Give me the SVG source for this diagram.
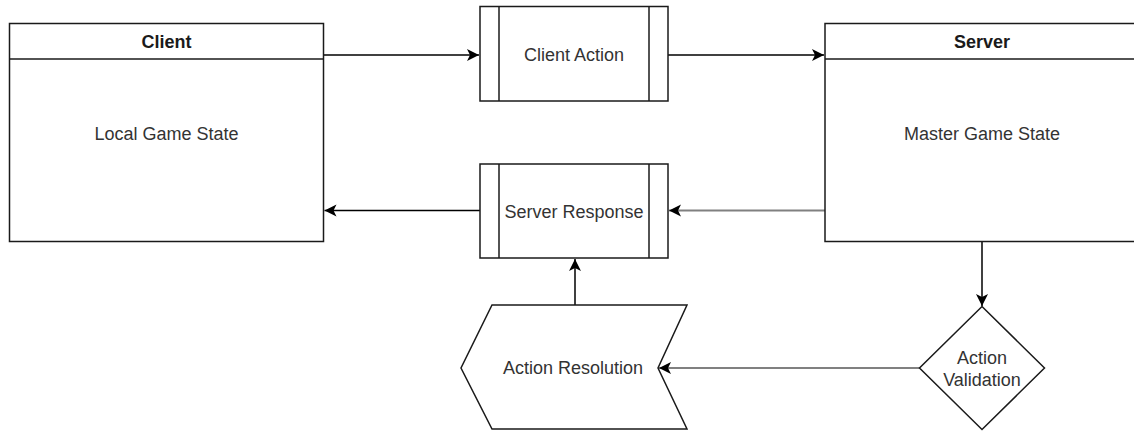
<svg xmlns="http://www.w3.org/2000/svg" width="1134" height="432" viewBox="0 0 1134 432">
<style>
.box{fill:#fff;stroke:#1a1a1a;stroke-width:1.5}
.t{font-family:"Liberation Sans",Arial,sans-serif;font-size:18px;fill:#333;text-anchor:middle;dominant-baseline:central}
.b{font-weight:bold;fill:#1a1a1a}
.c{fill:none;stroke:#000;stroke-width:1.5}
.g{stroke:#808080;stroke-width:2}
</style>
<defs>
<marker id="ah" markerUnits="userSpaceOnUse" markerWidth="14" markerHeight="14" viewBox="0 0 14 14" refX="12.5" refY="7" orient="auto">
<path d="M12.5,7 L0.5,1 L3.5,7 L0.5,13 Z" fill="#000"/>
</marker>
</defs>
<rect width="1134" height="432" fill="#fff"/>
<g id="connectors">
<path class="c" d="M323.5,55 H479" marker-end="url(#ah)"/>
<path class="c" d="M668,55 H824" marker-end="url(#ah)"/>
<path class="c g" d="M825,210.5 H669" marker-end="url(#ah)"/>
<path class="c" d="M480,210.5 H324.5" marker-end="url(#ah)"/>
<path class="c" d="M982,241.5 V306" marker-end="url(#ah)"/>
<path class="c g" d="M920,368 H659" marker-end="url(#ah)"/>
<path class="c" d="M575,305 V259" marker-end="url(#ah)"/>
</g>
<g id="client">
<rect class="box" x="9.5" y="23.5" width="314" height="218"/>
<line class="box" x1="9.5" y1="59" x2="323.5" y2="59"/>
<text class="t b" x="166.5" y="42">Client</text>
<text class="t" x="166.5" y="134">Local Game State</text>
</g>
<g id="client-action">
<rect class="box" x="480" y="6.5" width="188" height="94.5"/>
<line class="box" x1="499" y1="6.5" x2="499" y2="101"/>
<line class="box" x1="649" y1="6.5" x2="649" y2="101"/>
<text class="t" x="574" y="55">Client Action</text>
</g>
<g id="server">
<rect class="box" x="825" y="23.5" width="314" height="218"/>
<line class="box" x1="825" y1="59" x2="1139" y2="59"/>
<text class="t b" x="982" y="42">Server</text>
<text class="t" x="982" y="134">Master Game State</text>
</g>
<g id="server-response">
<rect class="box" x="480" y="164" width="188" height="94"/>
<line class="box" x1="499" y1="164" x2="499" y2="258"/>
<line class="box" x1="649" y1="164" x2="649" y2="258"/>
<text class="t" x="574" y="212">Server Response</text>
</g>
<g id="action-validation">
<path class="box" d="M982,306.5 L1044.5,368 L982,429.5 L919.5,368 Z"/>
<text class="t" x="982" y="358">Action</text>
<text class="t" x="982" y="380">Validation</text>
</g>
<g id="action-resolution">
<path class="box" d="M492,305 L687,305 L658,368 L687,429 L492,429 L461,368 Z"/>
<text class="t" x="573" y="368">Action Resolution</text>
</g>
</svg>
